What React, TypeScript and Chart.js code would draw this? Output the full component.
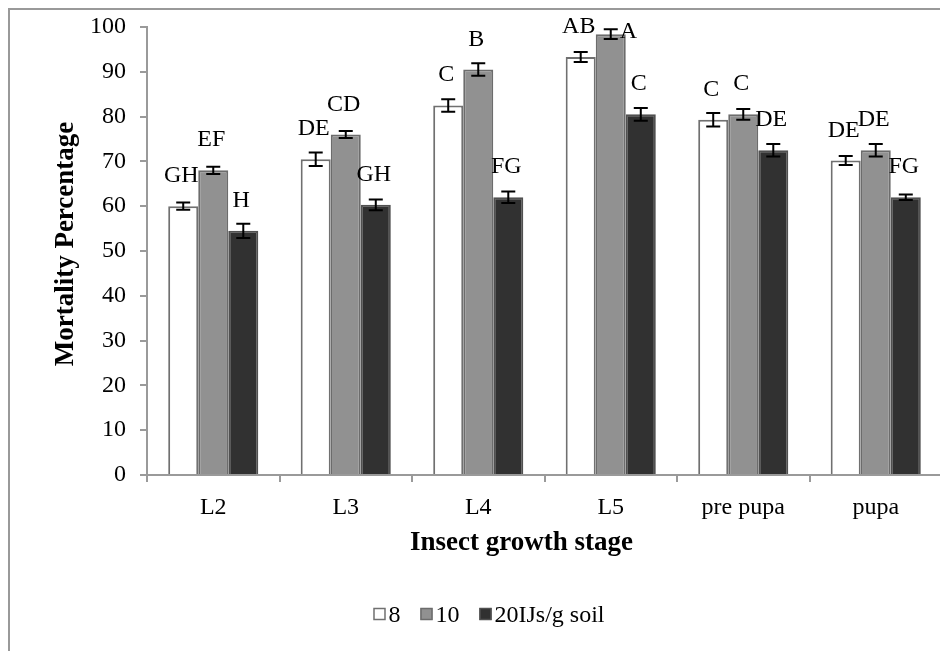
import React, { useEffect, useRef } from "react";
import { Chart, registerables } from "chart.js";

Chart.register(...registerables);

const categories = ["L2", "L3", "L4", "L5", "pre pupa", "pupa"];
const seriesNames = ["8", "10", "20IJs/g soil"];
const values8 = [60, 70.5, 82.5, 93.3, 79.3, 70.2];
const values10 = [68, 76, 90.5, 98.4, 80.5, 72.5];
const values20 = [54.5, 60.3, 62, 80.5, 72.5, 62];
const errors8 = [0.8, 1.5, 1.4, 1.1, 1.5, 1.0];
const errors10 = [0.8, 0.8, 1.4, 1.1, 1.2, 1.4];
const errors20 = [1.6, 1.2, 1.3, 1.4, 1.4, 0.6];
const letters8 = ["GH", "DE", "C", "AB", "C", "DE"];
const letters10 = ["EF", "CD", "B", "A", "C", "DE"];
const letters20 = ["H", "GH", "FG", "C", "DE", "FG"];
const xTitle = "Insect growth stage";
const yTitle = "Mortality Percentage";
const yMin = 0;
const yMax = 100;
const yStep = 10;

const FONT = "'Liberation Serif', 'Times New Roman', serif";

const fills = ["#ffffff", "#919191", "#313131"];
const borders = ["#707070", "#6c6c6c", "#505050"];

const errorPlugin = {
  id: "errorsAndLetters",
  afterDatasetsDraw(chart: any) {
    const ctx = chart.ctx;
    const y = chart.scales.y;
    chart.data.datasets.forEach((ds: any, i: number) => {
      const meta = chart.getDatasetMeta(i);
      meta.data.forEach((el: any, j: number) => {
        const v = ds.data[j];
        const e = ds.errors[j];
        const top = y.getPixelForValue(v + e);
        const bot = y.getPixelForValue(v - e);
        ctx.save();
        ctx.strokeStyle = "#000";
        ctx.lineWidth = 2;
        ctx.beginPath();
        ctx.moveTo(el.x, top);
        ctx.lineTo(el.x, bot);
        ctx.moveTo(el.x - 7, top);
        ctx.lineTo(el.x + 7, top);
        ctx.moveTo(el.x - 7, bot);
        ctx.lineTo(el.x + 7, bot);
        ctx.stroke();
        ctx.fillStyle = "#000";
        ctx.font = `24px ${FONT}`;
        ctx.textBaseline = "alphabetic";
        let base = y.getPixelForValue(v) - 24;
        if (base - 17 < 0) {
          // no room above: place beside the error bar, as the original does
          ctx.textAlign = "left";
          ctx.fillText(ds.letters[j], el.x + 9, y.getPixelForValue(v) + 4);
        } else {
          ctx.textAlign = "center";
          ctx.fillText(ds.letters[j], el.x - 2, base);
        }
        ctx.restore();
      });
    });
  },
};

const titlesPlugin = {
  id: "axisTitles",
  afterDraw(chart: any) {
    const ctx = chart.ctx;
    const a = chart.chartArea;
    ctx.save();
    ctx.fillStyle = "#000";
    ctx.font = `bold 27px ${FONT}`;
    ctx.textAlign = "center";
    ctx.textBaseline = "middle";
    ctx.fillText(xTitle, (a.left + a.right) / 2 - 23, a.bottom + 68);
    ctx.translate(56, (a.top + a.bottom) / 2 - 7);
    ctx.rotate(-Math.PI / 2);
    ctx.fillText(yTitle, 0, 0);
    ctx.restore();
  },
};

const legendPlugin = {
  id: "customLegend",
  afterDraw(chart: any) {
    const ctx = chart.ctx;
    ctx.save();
    ctx.font = `24px ${FONT}`;
    const box = 12;
    const gapText = 3;
    const gapItem = 20;
    const items = chart.data.datasets.map((ds: any) => ({
      label: ds.label,
      fill: ds.backgroundColor,
      border: ds.borderColor,
      w: box + gapText + ctx.measureText(ds.label).width,
    }));
    const total = items.reduce((s: number, it: any) => s + it.w, 0) + gapItem * (items.length - 1);
    let x = chart.width / 2 - total / 2 + 4;
    const cy = 605;
    items.forEach((it: any) => {
      ctx.fillStyle = it.fill;
      ctx.fillRect(x, cy - box / 2 - 1, box, box);
      ctx.strokeStyle = it.border;
      ctx.lineWidth = 1.5;
      ctx.strokeRect(x + 0.5, cy - box / 2 - 0.5, box - 1, box - 1);
      ctx.fillStyle = "#000";
      ctx.textAlign = "left";
      ctx.textBaseline = "middle";
      ctx.fillText(it.label, x + box + gapText, cy + 1);
      x += it.w + gapItem;
    });
    ctx.restore();
  },
};

export default function App() {
  const ref = useRef<HTMLCanvasElement>(null);
  useEffect(() => {
    if (!ref.current) return;
    const mk = (label: string, data: number[], errors: number[], letters: string[], k: number) => ({
      label,
      data,
      errors,
      letters,
      backgroundColor: fills[k],
      borderColor: borders[k],
      borderWidth: 2,
      categoryPercentage: 0.68,
      barPercentage: 1.0,
    });
    const chart = new Chart(ref.current, {
      type: "bar",
      data: {
        labels: categories,
        datasets: [
          mk(seriesNames[0], values8, errors8, letters8, 0),
          mk(seriesNames[1], values10, errors10, letters10, 1),
          mk(seriesNames[2], values20, errors20, letters20, 2),
        ] as any,
      },
      options: {
        animation: false,
        responsive: false,
        devicePixelRatio: 1,
        layout: { padding: { left: 0, right: 18, top: 17, bottom: 0 } },
        plugins: { legend: { display: false }, tooltip: { enabled: false } },
        scales: {
          x: {
            grid: { display: true, drawOnChartArea: false, offset: true, color: "#9a9a9a", tickLength: 7, lineWidth: 2 },
            border: { color: "#9a9a9a", width: 2 },
            ticks: { color: "#000", font: { family: FONT, size: 24 }, padding: 11, maxRotation: 0 },
            afterFit: (s: any) => {
              s.height = 176;
              s.paddingLeft = 0;
              s.paddingRight = 0;
            },
          },
          y: {
            min: yMin,
            max: yMax,
            grid: { display: true, drawOnChartArea: false, color: "#9a9a9a", tickLength: 7, lineWidth: 2 },
            border: { color: "#9a9a9a", width: 2 },
            ticks: { stepSize: yStep, color: "#000", font: { family: FONT, size: 24 }, padding: 14 },
            afterFit: (s: any) => {
              s.width = 137;
              s.paddingTop = 0;
              s.paddingBottom = 0;
            },
          },
        },
      },
      plugins: [errorPlugin, titlesPlugin, legendPlugin],
    } as any);
    return () => chart.destroy();
  }, []);
  return (
    <div style={{ position: "fixed", left: 0, top: 0, width: 940, height: 651, overflow: "hidden", background: "#fff" }}>
      <div
        style={{
          position: "absolute",
          left: 8,
          top: 8,
          width: 1000,
          height: 700,
          border: "2px solid #999",
          boxSizing: "border-box",
        }}
      />
      <canvas
        ref={ref}
        width={950}
        height={641}
        style={{ position: "absolute", left: 10, top: 10, width: 950, height: 641 }}
      />
    </div>
  );
}
